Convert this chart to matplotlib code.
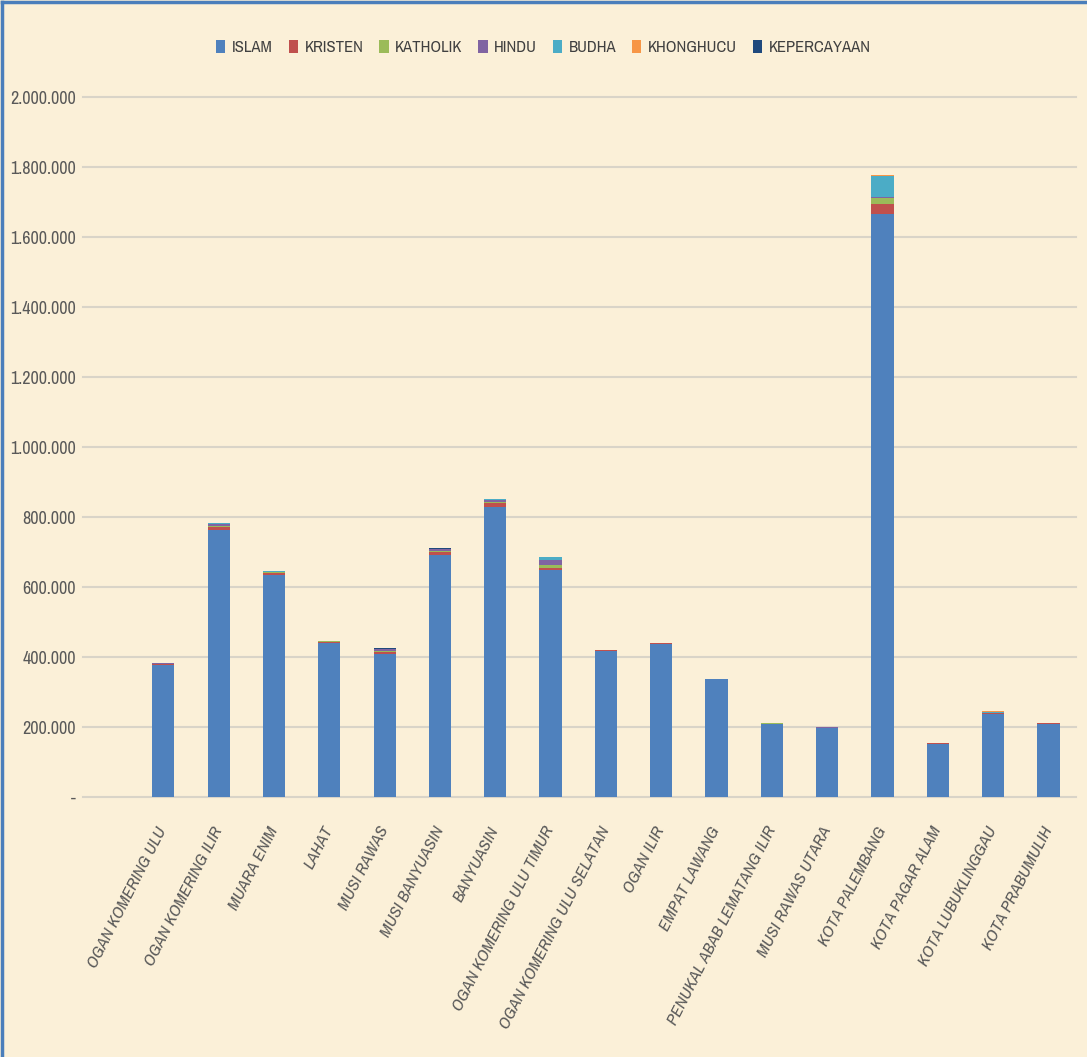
import matplotlib
matplotlib.use("Agg")
import matplotlib.pyplot as plt
from matplotlib.lines import Line2D
from matplotlib.ticker import FuncFormatter, MultipleLocator
from matplotlib import font_manager as fm
import numpy as np

categories = ["OGAN KOMERING ULU", "OGAN KOMERING ILIR", "MUARA ENIM", "LAHAT",
              "MUSI RAWAS", "MUSI BANYUASIN", "BANYUASIN", "OGAN KOMERING ULU TIMUR",
              "OGAN KOMERING ULU SELATAN", "OGAN ILIR", "EMPAT LAWANG",
              "PENUKAL ABAB LEMATANG ILIR", "MUSI RAWAS UTARA", "KOTA PALEMBANG",
              "KOTA PAGAR ALAM", "KOTA LUBUKLINGGAU", "KOTA PRABUMULIH"]

islam       = [376000, 763000, 634000, 441000, 410000, 693000, 830000, 649000, 418000, 438000, 336000, 208000, 196000, 1665000, 151000, 236000, 209000]
kristen     = [3000, 8000, 6000, 2000, 5000, 8000, 11000, 5000, 1500, 1000, 800, 2000, 1500, 31000, 2000, 3000, 1500]
katholik    = [2000, 3000, 2500, 1500, 3000, 3000, 3000, 10000, 500, 500, 300, 1000, 1000, 17000, 800, 1500, 800]
hindu       = [1000, 7000, 1000, 300, 5000, 4000, 5000, 14000, 300, 200, 100, 500, 800, 2000, 100, 300, 200]
budha       = [1500, 3000, 1500, 800, 1000, 2000, 3000, 7000, 800, 500, 300, 500, 300, 60000, 300, 2500, 1000]
khonghucu   = [200, 300, 200, 100, 300, 200, 200, 300, 100, 100, 50, 100, 100, 1500, 50, 1500, 100]
kepercayaan = [100, 200, 100, 100, 100, 100, 100, 100, 50, 50, 50, 50, 50, 500, 50, 50, 50]

series = [("ISLAM", islam, "#4F81BD"), ("KRISTEN", kristen, "#C0504D"),
          ("KATHOLIK", katholik, "#9BBB59"), ("HINDU", hindu, "#8064A2"),
          ("BUDHA", budha, "#4BACC6"), ("KHONGHUCU", khonghucu, "#F79646"),
          ("KEPERCAYAAN", kepercayaan, "#1F497D")]

# pick a condensed face if one is installed, else a fairly narrow regular one
narrow_family, narrow_stretch, narrow = None, "normal", False
for f in fm.fontManager.ttflist:
    nm = f.name.lower()
    if "narrow" in nm or "condensed" in nm:
        narrow_family, narrow = f.name, True
        break
if narrow_family is None:
    for f in fm.fontManager.ttflist:
        st = f.stretch if isinstance(f.stretch, str) else ""
        if (st in ("condensed", "semi-condensed", "extra-condensed")
                or (isinstance(f.stretch, int) and f.stretch <= 500)) and f.style == "normal":
            narrow_family, narrow_stretch, narrow = f.name, f.stretch, True
            break
if narrow_family is None:
    narrow_family = "Liberation Sans"
fam = [narrow_family, "DejaVu Sans"]
scale = 1.0 if narrow else 0.85

bg = "#FBF0D8"
fig = plt.figure(figsize=(10.87, 10.57), dpi=100, facecolor=bg)
ax = fig.add_axes([0.0764, 0.246, 0.9136, 0.662])
ax.set_facecolor(bg)

x = np.arange(len(categories))
bottom = np.zeros(len(categories))
for name, vals, col in series:
    v = np.array(vals, dtype=float)
    ax.bar(x, v, 0.4, bottom=bottom, color=col, label=name, zorder=3)
    bottom += v

ax.set_xlim(-1.45, 16.5)
ax.set_ylim(0, 2000000)
ax.yaxis.set_major_locator(MultipleLocator(200000))
ax.yaxis.set_major_formatter(FuncFormatter(
    lambda v, p: "-" if v == 0 else f"{int(v):,}".replace(",", ".")))
ax.grid(axis="y", color="#D9D4C8", linewidth=1.5, zorder=0)
for gl in ax.get_ygridlines():
    gl.set_clip_on(False)
for s in ax.spines.values():
    s.set_visible(False)
ax.tick_params(axis="both", length=0)
ax.tick_params(axis="y", pad=5)

for lab in ax.get_yticklabels():
    lab.set_fontfamily(fam)
    lab.set_fontstretch(narrow_stretch)
    lab.set_fontsize(13 * scale)
    lab.set_color("#595959")

ax.set_xticks(x)
ax.set_xticklabels(categories, rotation=63, ha="right", va="center",
                   rotation_mode="anchor", fontstyle="italic",
                   fontsize=12.5 * scale, color="#595959", family=fam,
                   fontstretch=narrow_stretch)
ax.tick_params(axis="x", pad=22)

leg = fig.legend(loc="upper center", bbox_to_anchor=(0.5, 0.976), ncol=7,
                 frameon=False, handlelength=0.55, handleheight=0.75,
                 handletextpad=0.4, columnspacing=0.95,
                 prop={"family": fam, "size": 12 * scale, "stretch": narrow_stretch})
for t in leg.get_texts():
    t.set_color("#404040")

fig.add_artist(Line2D([0.002, 0.002], [0, 0.998], transform=fig.transFigure,
                      color="#4A7EBB", linewidth=2.5))
fig.add_artist(Line2D([0.002, 1.0], [0.998, 0.998], transform=fig.transFigure,
                      color="#4A7EBB", linewidth=2.5))

fig.savefig("out.png", dpi=100, facecolor=bg)
